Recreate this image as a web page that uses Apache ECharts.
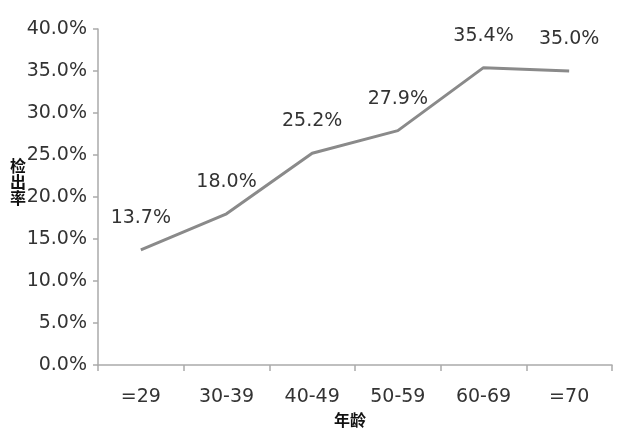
<!DOCTYPE html>
<html>
<head>
<meta charset="utf-8">
<script src="https://cdn.jsdelivr.net/npm/echarts@6/dist/echarts.min.js"></script>
<style>
  html, body { margin: 0; padding: 0; background: #fff; }
  #chart { width: 641px; height: 428px; }
</style>
</head>
<body>
<div id="chart"></div>
<script>
// 年龄组
var ageGroups = ['=29', '30-39', '40-49', '50-59', '60-69', '=70'];
// 检出率 (%)
var rates = [13.7, 18.0, 25.2, 27.9, 35.4, 35.0];
// 纵轴标题（竖排）
var yTitle = ['检', '出', '率'];

var chart = echarts.init(document.getElementById('chart'));

var titleStyle = { fontFamily: 'Noto Sans CJK SC', fontSize: 16, fontWeight: 'bold', fill: '#111' };

chart.setOption({
  animation: false,
  grid: {
    left: 98,
    right: 29,
    top: 29,
    bottom: 63,
    outerBoundsMode: 'none'
  },
  graphic: yTitle.map(function (ch, i) {
    return {
      type: 'text',
      left: 10,
      top: 158 + i * 16,
      style: Object.assign({ text: ch }, titleStyle)
    };
  }),
  xAxis: {
    type: 'category',
    data: ageGroups,
    boundaryGap: true,
    name: '年龄',
    nameLocation: 'middle',
    nameGap: 36,
    nameTextStyle: { fontFamily: 'Noto Sans CJK SC', fontSize: 16, fontWeight: 'bold', color: '#111', padding: [0, 10, 0, 0] },
    axisLine: { lineStyle: { color: '#aaaaaa', width: 1.5 } },
    axisTick: { show: true, length: 6, lineStyle: { color: '#aaaaaa', width: 1.5 } },
    axisLabel: { margin: 23, fontFamily: 'DejaVu Sans', fontSize: 19, color: '#333' }
  },
  yAxis: {
    type: 'value',
    min: 0,
    max: 40,
    interval: 5,
    splitLine: { show: false },
    axisLine: { show: true, lineStyle: { color: '#aaaaaa', width: 1.5 } },
    axisTick: { show: true, length: 5, lineStyle: { color: '#aaaaaa', width: 1.5 } },
    axisLabel: {
      margin: 11,
      fontFamily: 'DejaVu Sans', fontSize: 19, color: '#333',
      formatter: function (v) { return v.toFixed(1) + '%'; }
    }
  },
  series: [
    {
      type: 'line',
      data: rates,
      showSymbol: true,
      symbol: 'circle',
      symbolSize: 1,
      lineStyle: { color: '#8a8a8a', width: 3 },
      itemStyle: { color: 'rgba(0,0,0,0)', borderWidth: 0 },
      label: {
        show: true,
        position: 'top',
        distance: 22,
        fontFamily: 'DejaVu Sans',
        fontSize: 19,
        color: '#333',
        formatter: function (p) { return p.value.toFixed(1) + '%'; }
      }
    }
  ]
});
</script>
</body>
</html>
